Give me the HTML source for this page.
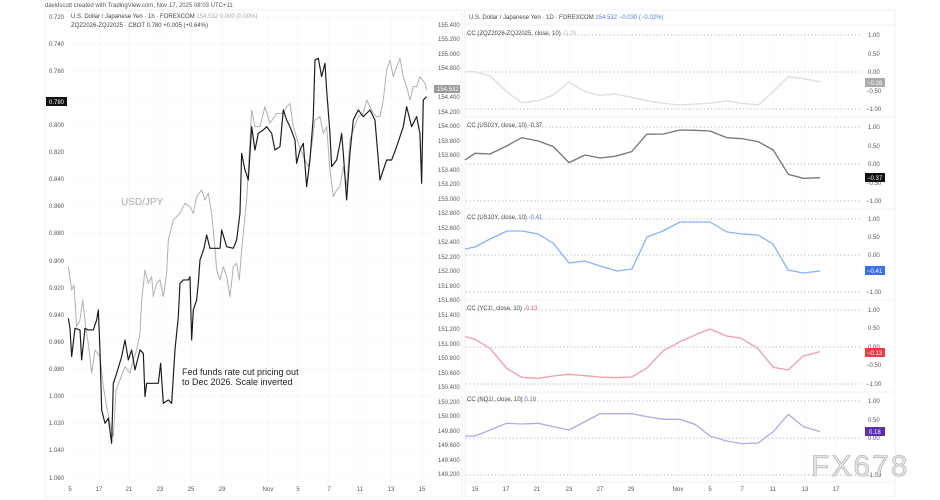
<!DOCTYPE html>
<html><head><meta charset="utf-8"><style>
body{margin:0;background:#fff;width:940px;height:500px;overflow:hidden;font-family:"Liberation Sans",sans-serif}
svg{display:block}
</style></head><body>
<svg width="940" height="500" viewBox="0 0 940 500" xmlns="http://www.w3.org/2000/svg" font-family="Liberation Sans, sans-serif">
<rect width="940" height="500" fill="#fff"/>
<text x="45" y="7" font-size="6" fill="#555">davidscutt created with TradingView.com, Nov 17, 2025 08:03 UTC+11</text>
<!-- left panel frame -->
<rect x="45" y="10" width="417" height="487" fill="#fff" stroke="#f0f0f0"/>
<rect x="465" y="10" width="430" height="487" fill="#fff" stroke="#f0f0f0"/>
<g stroke="#f2f2f2" stroke-width="0.6">
<line x1="68" y1="17" x2="433" y2="17"/><line x1="68" y1="44" x2="433" y2="44"/><line x1="68" y1="71" x2="433" y2="71"/><line x1="68" y1="98" x2="433" y2="98"/><line x1="68" y1="125" x2="433" y2="125"/><line x1="68" y1="152" x2="433" y2="152"/><line x1="68" y1="179" x2="433" y2="179"/><line x1="68" y1="206" x2="433" y2="206"/><line x1="68" y1="233" x2="433" y2="233"/><line x1="68" y1="261" x2="433" y2="261"/><line x1="68" y1="288" x2="433" y2="288"/><line x1="68" y1="315" x2="433" y2="315"/><line x1="68" y1="342" x2="433" y2="342"/><line x1="68" y1="369" x2="433" y2="369"/><line x1="68" y1="396" x2="433" y2="396"/><line x1="68" y1="423" x2="433" y2="423"/><line x1="68" y1="450" x2="433" y2="450"/><line x1="68" y1="478" x2="433" y2="478"/>
<line x1="99" y1="12" x2="99" y2="482"/><line x1="129" y1="12" x2="129" y2="482"/><line x1="160" y1="12" x2="160" y2="482"/><line x1="191" y1="12" x2="191" y2="482"/><line x1="222" y1="12" x2="222" y2="482"/><line x1="268" y1="12" x2="268" y2="482"/><line x1="298" y1="12" x2="298" y2="482"/><line x1="329" y1="12" x2="329" y2="482"/><line x1="360" y1="12" x2="360" y2="482"/><line x1="391" y1="12" x2="391" y2="482"/><line x1="422" y1="12" x2="422" y2="482"/>
</g>
<text x="71" y="18" font-size="6" fill="#444">U.S. Dollar / Japanese Yen · 1h · FOREXCOM <tspan fill="#aaa">154.532  0.000 (0.00%)</tspan></text>
<text x="71" y="27" font-size="6" fill="#444">ZQZ2026-ZQJ2025 · CBOT  0.780  +0.005 (+0.64%)</text>
<g font-size="6" fill="#555">
<text x="49" y="19">0.720</text><text x="49" y="46">0.740</text><text x="49" y="73">0.760</text><text x="49" y="127">0.800</text><text x="49" y="154">0.820</text><text x="49" y="181">0.840</text><text x="49" y="208">0.860</text><text x="49" y="235">0.880</text><text x="49" y="263">0.900</text><text x="49" y="290">0.920</text><text x="49" y="317">0.940</text><text x="49" y="344">0.960</text><text x="49" y="371">0.980</text><text x="49" y="398">1.000</text><text x="49" y="425">1.020</text><text x="49" y="452">1.040</text><text x="49" y="480">1.060</text>
</g>
<rect x="46" y="97" width="21" height="9" fill="#111"/><text x="49" y="104" font-size="6" fill="#fff">0.780</text>
<g font-size="6" fill="#555">
<text x="438" y="27">155.400</text><text x="438" y="41">155.200</text><text x="438" y="56">155.000</text><text x="438" y="70">154.800</text><text x="438" y="99">154.400</text><text x="438" y="114">154.200</text><text x="438" y="128">154.000</text><text x="438" y="143">153.800</text><text x="438" y="157">153.600</text><text x="438" y="172">153.400</text><text x="438" y="186">153.200</text><text x="438" y="201">153.000</text><text x="438" y="215">152.800</text><text x="438" y="230">152.600</text><text x="438" y="244">152.400</text><text x="438" y="259">152.200</text><text x="438" y="273">152.000</text><text x="438" y="288">151.800</text><text x="438" y="302">151.600</text><text x="438" y="317">151.400</text><text x="438" y="331">151.200</text><text x="438" y="346">151.000</text><text x="438" y="360">150.800</text><text x="438" y="375">150.600</text><text x="438" y="389">150.400</text><text x="438" y="404">150.200</text><text x="438" y="418">150.000</text><text x="438" y="433">149.800</text><text x="438" y="447">149.600</text><text x="438" y="462">149.400</text><text x="438" y="476">149.200</text>
</g>
<rect x="434" y="85" width="26" height="8" fill="#999"/><text x="437" y="91" font-size="6" fill="#fff">154.532</text>
<g font-size="6" fill="#555" text-anchor="middle">
<text x="70" y="491">5</text><text x="99" y="491">17</text><text x="129" y="491">21</text><text x="160" y="491">23</text><text x="191" y="491">25</text><text x="222" y="491">29</text><text x="268" y="491">Nov</text><text x="298" y="491">5</text><text x="329" y="491">7</text><text x="360" y="491">11</text><text x="391" y="491">13</text><text x="422" y="491">15</text>
</g>
<text x="121" y="205" font-size="10" fill="#aaa">USD/JPY</text>
<text x="182" y="375" font-size="9" fill="#222">Fed funds rate cut pricing out</text>
<text x="182" y="385" font-size="9" fill="#222">to Dec 2026. Scale inverted</text>
<g transform="scale(0.3333)" fill="none" stroke-linejoin="round">
<polyline stroke="#b0b0b0" stroke-width="3" points="205,800 215,870 222,855 230,980 240,960 248,900 258,990 265,1030 275,1120 285,1050 300,1070 310,1160 320,1220 330,1270 340,1310 348,1170 360,1140 375,1100 390,1120 400,1080 410,1050 420,1000 425,900 435,810 445,850 455,830 460,890 470,850 480,840 490,890 500,820 505,720 520,660 540,640 555,610 570,620 580,640 590,590 605,570 615,600 625,580 635,640 645,745 650,810 660,840 670,800 680,830 690,890 700,800 710,790 718,840 725,750 730,700 740,600 755,330 765,380 780,380 795,320 810,370 830,340 850,340 860,320 870,310 880,380 895,430 910,470 925,500 935,440 945,360 960,350 970,400 980,380 990,510 1000,590 1010,570 1020,560 1030,500 1040,560 1050,420 1060,390 1075,350 1090,340 1100,300 1110,320 1120,340 1130,350 1140,350 1150,300 1160,210 1170,180 1180,230 1190,200 1200,175 1210,230 1220,260 1230,300 1240,260 1250,260 1260,230 1275,250 1280,270"/>
<polyline stroke="#1a1a1a" stroke-width="3.5" points="205,955 210,985 215,1070 225,985 240,990 245,1080 255,985 265,990 280,990 290,960 295,930 300,1050 305,1230 315,1270 325,1255 335,1330 340,1150 350,1120 365,1070 375,1020 385,1080 395,1050 405,1110 420,1050 430,1060 435,1190 440,1150 460,1150 475,1150 482,1090 490,1210 505,1200 515,1210 525,1050 535,950 540,850 550,840 565,840 570,830 575,1020 580,930 590,900 595,850 600,780 612,745 620,705 630,745 660,745 665,690 680,740 700,745 710,720 720,640 725,460 735,510 745,540 755,380 765,450 775,400 790,390 800,380 815,400 825,450 840,440 850,330 860,360 870,380 885,420 890,490 900,450 910,430 920,560 930,480 940,350 945,180 955,175 965,230 975,190 980,270 990,400 995,500 1010,480 1020,430 1025,400 1030,460 1040,600 1050,460 1060,360 1075,330 1090,350 1110,330 1125,360 1135,480 1140,540 1160,480 1175,480 1190,440 1210,380 1220,320 1235,380 1250,350 1260,400 1265,550 1270,300 1280,290"/>
</g>
<!-- right panel -->
<text x="469" y="19" font-size="6" fill="#444">U.S. Dollar / Japanese Yen · 1D · FOREXCOM <tspan fill="#4a7ef5">154.532  −0.030 (−0.02%)</tspan></text>
<g stroke="#eee" stroke-width="0.7">
<line x1="466" y1="25" x2="894" y2="25"/><line x1="466" y1="117" x2="894" y2="117"/><line x1="466" y1="209" x2="894" y2="209"/><line x1="466" y1="300" x2="894" y2="300"/><line x1="466" y1="392" x2="894" y2="392"/><line x1="466" y1="482" x2="894" y2="482"/>
</g>
<g stroke="#f3f3f3" stroke-width="0.6">
<line x1="475" y1="26" x2="475" y2="482"/><line x1="506" y1="26" x2="506" y2="482"/><line x1="537" y1="26" x2="537" y2="482"/><line x1="569" y1="26" x2="569" y2="482"/><line x1="600" y1="26" x2="600" y2="482"/><line x1="631" y1="26" x2="631" y2="482"/><line x1="678" y1="26" x2="678" y2="482"/><line x1="710" y1="26" x2="710" y2="482"/><line x1="742" y1="26" x2="742" y2="482"/><line x1="773" y1="26" x2="773" y2="482"/><line x1="805" y1="26" x2="805" y2="482"/><line x1="836" y1="26" x2="836" y2="482"/>
</g>
<g stroke="#999" stroke-width="0.8" stroke-dasharray="1.2 2.4">
<line x1="466" y1="35" x2="862" y2="35"/><line x1="466" y1="72" x2="862" y2="72"/><line x1="466" y1="109" x2="862" y2="109"/>
<line x1="466" y1="127" x2="862" y2="127"/><line x1="466" y1="164" x2="862" y2="164"/><line x1="466" y1="201" x2="862" y2="201"/>
<line x1="466" y1="219" x2="862" y2="219"/><line x1="466" y1="255" x2="862" y2="255"/><line x1="466" y1="292" x2="862" y2="292"/>
<line x1="466" y1="310" x2="862" y2="310"/><line x1="466" y1="347" x2="862" y2="347"/><line x1="466" y1="384" x2="862" y2="384"/>
<line x1="466" y1="401" x2="862" y2="401"/><line x1="466" y1="438" x2="862" y2="438"/><line x1="466" y1="475" x2="862" y2="475"/>
</g>
<g font-size="6" fill="#444">
<text x="467" y="35">CC (ZQZ2026-ZQJ2025, close, 10) <tspan fill="#bbb">-0.26</tspan></text>
<text x="467" y="127">CC (US02Y, close, 10) -0.37</text>
<text x="467" y="219">CC (US10Y, close, 10) <tspan fill="#4a7ef5">-0.41</tspan></text>
<text x="467" y="310">CC (YC1!, close, 10) <tspan fill="#f05060">-0.13</tspan></text>
<text x="467" y="401">CC (NQ1!, close, 10) <tspan fill="#7060c0">0.18</tspan></text>
</g>
<g font-size="6" fill="#555">
<text x="868" y="37">1.00</text><text x="868" y="56">0.50</text><text x="868" y="74">0.00</text><text x="866" y="93">−0.50</text><text x="866" y="111">−1.00</text>
<text x="868" y="129">1.00</text><text x="868" y="148">0.50</text><text x="868" y="166">0.00</text><text x="866" y="185">−0.50</text><text x="866" y="203">−1.00</text>
<text x="868" y="221">1.00</text><text x="868" y="239">0.50</text><text x="868" y="257">0.00</text><text x="866" y="294">−1.00</text>
<text x="868" y="312">1.00</text><text x="868" y="330">0.50</text><text x="868" y="349">0.00</text><text x="866" y="367">−0.50</text><text x="866" y="386">−1.00</text>
<text x="868" y="403">1.00</text><text x="868" y="422">0.50</text><text x="868" y="440">0.00</text><text x="866" y="477">−1.00</text>
</g>
<rect x="865" y="78" width="20" height="9" fill="#aaa"/><text x="867" y="85" font-size="6" fill="#fff">−0.26</text>
<rect x="865" y="173" width="20" height="9" fill="#111"/><text x="867" y="180" font-size="6" fill="#fff">−0.37</text>
<rect x="865" y="266" width="20" height="9" fill="#3a6ef5"/><text x="867" y="273" font-size="6" fill="#fff">−0.41</text>
<rect x="865" y="348" width="20" height="9" fill="#f03848"/><text x="867" y="355" font-size="6" fill="#fff">−0.13</text>
<rect x="865" y="427" width="20" height="9" fill="#5a30b0"/><text x="869" y="434" font-size="6" fill="#fff">0.18</text>
<g font-size="6" fill="#555" text-anchor="middle">
<text x="475" y="491">15</text><text x="506" y="491">17</text><text x="537" y="491">21</text><text x="569" y="491">23</text><text x="600" y="491">27</text><text x="631" y="491">29</text><text x="678" y="491">Nov</text><text x="710" y="491">5</text><text x="742" y="491">7</text><text x="773" y="491">11</text><text x="805" y="491">13</text><text x="836" y="491">17</text>
</g>
<g fill="none" stroke-linejoin="round">
<g transform="translate(420,0) scale(0.3333)">
<polyline stroke="#ddd" stroke-width="4" points="135,215 165,215 210,228 260,275 305,308 355,302 400,285 447,246 495,275 540,286 585,282 635,292 680,302 730,310 780,315 825,312 870,310 920,303 965,310 1015,315 1060,275 1105,230 1150,236 1200,245"/>
<polyline stroke="#777" stroke-width="4" points="135,480 165,460 210,462 260,438 305,413 355,423 400,440 447,488 495,465 540,474 585,469 635,455 680,403 730,402 780,390 825,391 870,393 920,413 965,416 1015,425 1060,450 1105,523 1150,535 1200,533"/>
</g>
<polyline stroke="#8ab0fa" stroke-width="1.3" points="465,249 475,247 490,239 507,231 522,231 538,234 553,243 569,263 585,261 600,266 617,271 632,269 647,237 663,231 680,222 695,222 710,222 727,232 742,234 758,235 773,244 788,270 803,273 820,271"/>
<g transform="translate(420,250) scale(0.3333)">
<polyline stroke="#f0a0a8" stroke-width="4" points="135,260 165,268 210,295 260,355 305,382 355,385 400,378 447,373 495,377 540,381 585,383 635,381 680,355 730,302 780,275 825,255 870,237 920,258 965,265 1015,297 1060,352 1105,360 1150,318 1200,305"/>
<polyline stroke="#b8a8e0" stroke-width="4" points="135,558 165,558 210,540 260,520 305,522 355,520 400,530 447,540 495,515 540,491 585,491 635,491 680,500 730,508 780,508 825,523 870,558 920,573 965,581 1015,579 1060,545 1105,493 1150,530 1200,545"/>
</g>
</g>
<text x="811" y="476" font-size="30" fill="#dbe8f5" stroke="#b8a890" stroke-width="0.6" letter-spacing="2">FX678</text>
</svg>
</body></html>
